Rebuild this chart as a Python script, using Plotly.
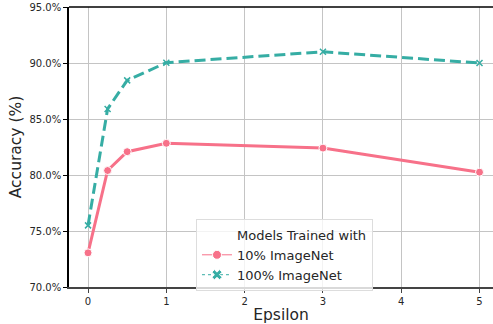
import plotly.graph_objects as go

epsilon = [0, 0.25, 0.5, 1, 3, 5]
acc_10 = [73.05, 80.4, 82.08, 82.83, 82.4, 80.25]
acc_100 = [75.5, 85.9, 88.45, 90.03, 91.0, 90.0]
series_names = ["10% ImageNet", "100% ImageNet"]
legend_title = "Models Trained with"
y_ticks = [70, 75, 80, 85, 90, 95]
y_tick_labels = [f"{v:.1f}%" for v in y_ticks]
x_ticks = [0, 1, 2, 3, 4, 5]

PINK = "#f77189"
TEAL = "#36ada4"
FONT = "DejaVu Sans"

fig = go.Figure()
fig.add_trace(go.Scatter(
    x=epsilon, y=acc_10, mode="lines+markers", showlegend=False,
    line=dict(color=PINK, width=3),
    marker=dict(symbol="circle", size=8, color=PINK, line=dict(color="white", width=1)),
))
fig.add_trace(go.Scatter(
    x=epsilon, y=acc_100, mode="lines+markers", showlegend=False,
    line=dict(color=TEAL, width=3, dash="11px,5px"),
    marker=dict(symbol="x-thin-open", size=6, color=TEAL, line=dict(color=TEAL, width=1.5)),
))
# legend entries
fig.add_trace(go.Scatter(
    x=[None], y=[None], mode="lines", name=legend_title,
    line=dict(color="rgba(0,0,0,0)", width=1),
))
fig.add_trace(go.Scatter(
    x=[None], y=[None], mode="lines+markers", name=series_names[0],
    line=dict(color=PINK, width=1),
    marker=dict(symbol="circle", size=9, color=PINK, line=dict(color="white", width=1)),
))
fig.add_trace(go.Scatter(
    x=[None], y=[None], mode="lines+markers", name=series_names[1],
    line=dict(color=TEAL, width=1, dash="dot"),
    marker=dict(symbol="x", size=9, color=TEAL, line=dict(color="white", width=1)),
))

fig.update_layout(
    width=493, height=324, autosize=False,
    margin=dict(l=69, r=0, t=7, b=37),
    plot_bgcolor="white", paper_bgcolor="white",
    font=dict(family=FONT, size=10, color="#262626"),
    showlegend=True,
    legend=dict(
        x=0.2995, y=0.243, xanchor="left", yanchor="top",
        bgcolor="rgba(255,255,255,0.8)", bordercolor="#dddddd", borderwidth=1,
        font=dict(family=FONT, size=13, color="#262626"),
        tracegroupgap=0, itemwidth=30,
    ),
    xaxis=dict(
        range=[-0.243, 5.172], tickvals=x_ticks, ticktext=[str(v) for v in x_ticks],
        showgrid=True, gridcolor="#c4c4c4", gridwidth=1, zeroline=False,
        showline=True, linecolor="#444444", linewidth=2,
        ticks="outside", ticklen=4, tickcolor="#444444",
        tickfont=dict(size=10),
        title=dict(text="Epsilon", font=dict(size=15.5), standoff=7),
    ),
    yaxis=dict(
        range=[70, 95], tickvals=y_ticks, ticktext=y_tick_labels,
        showgrid=True, gridcolor="#c4c4c4", gridwidth=1, zeroline=False,
        showline=True, linecolor="black", linewidth=1.5,
        ticks="outside", ticklen=4, tickcolor="black",
        tickfont=dict(size=10),
        title=dict(text="Accuracy (%)", font=dict(size=15.5), standoff=4),
    ),
    shapes=[dict(type="line", xref="paper", yref="paper", x0=0, x1=1, y0=1, y1=1,
                 line=dict(color="black", width=1.5))],
)

fig.write_html(
    "out.html",
    config={"displayModeBar": False},
    post_script="document.body.style.margin='0';document.body.style.overflow='hidden';",
)
